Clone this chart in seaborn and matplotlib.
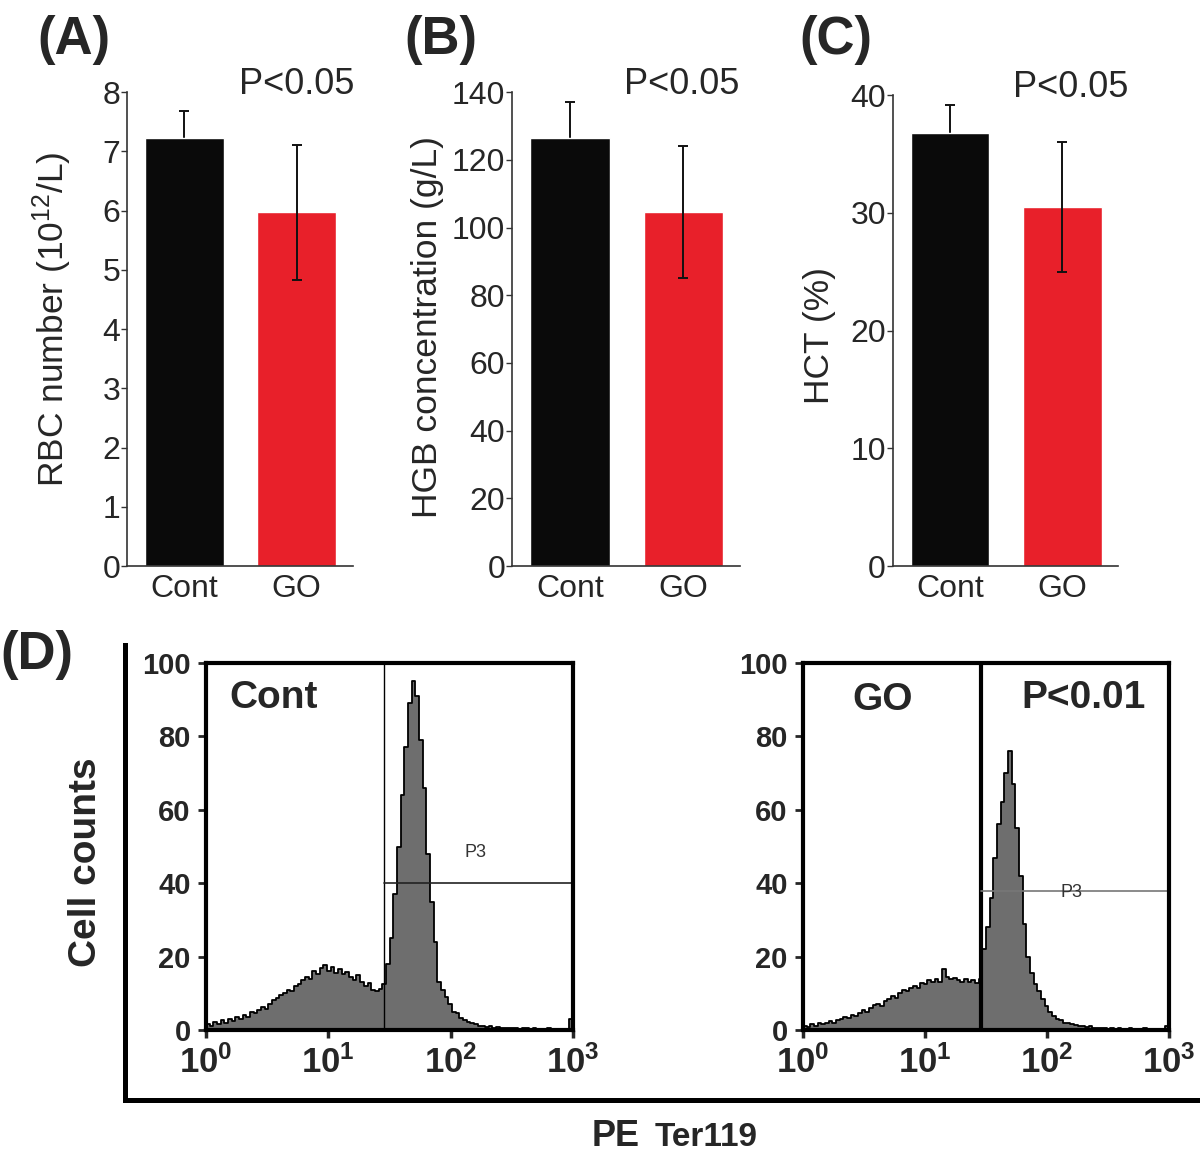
"""
Blood parameters (RBC, HGB, HCT) for Cont vs GO mice, plus Ter119 flow histograms.
"""

import numpy as np
import pandas as pd
import matplotlib
matplotlib.use("Agg")
import matplotlib.pyplot as plt
import seaborn as sns

# ---------- DATA ----------
groups = ["Cont", "GO"]
bar_colors = ["#0a0a0a", "#e8202a"]

rbc_mean = [7.22, 5.97]
rbc_err = [0.47, 1.14]
hgb_mean = [126.5, 104.5]
hgb_err = [10.5, 19.5]
hct_mean = [36.8, 30.5]
hct_err = [2.4, 5.5]

# histogram counts, 100 channels spread evenly over log10(PE) = 0 .. 3
cont_counts = [
    1.5, 1.0, 2.2, 1.5, 2.8, 1.8, 3.0, 2.5, 3.6, 3.0,
    4.2, 3.5, 4.8, 4.5, 5.5, 6.2, 5.8, 7.0, 8.2, 8.8,
    9.5, 10.2, 11.0, 10.5, 12.0, 12.5, 13.5, 14.5, 13.8, 16.0,
    15.2, 16.8, 17.8, 16.0, 17.2, 15.5, 16.5, 15.2, 15.8, 14.5,
    13.5, 15.0, 13.2, 12.0, 12.8, 11.0, 10.5, 11.2, 12.5, 18.0,
    25, 37, 50, 64, 77, 89, 95, 91, 79, 66,
    48, 35, 24, 13, 11, 9, 7, 5, 4.5, 3.2,
    2.8, 2.2, 1.8, 1.5, 1.2, 1.0, 0.8, 1.0, 0.6, 0.7,
    0.5, 0.6, 0.4, 0.5, 0.6, 0.3, 0.4, 0.5, 0.3, 0.4,
    0.3, 0.2, 0.3, 0.4, 0.2, 0.3, 0.2, 0.3, 0.2, 3.0,
]
go_counts = [
    1.0, 0.8, 1.5, 1.2, 1.8, 1.5, 2.0, 2.4, 2.0, 2.8,
    3.0, 3.5, 3.2, 4.0, 3.8, 4.5, 5.5, 5.0, 6.0, 6.8,
    7.0, 6.5, 8.0, 8.5, 9.2, 8.8, 10.0, 11.0, 10.5, 11.5,
    12.0, 11.5, 12.8, 12.5, 13.5, 13.0, 14.0, 13.2, 16.5, 14.5,
    14.0, 14.2, 13.5, 13.0, 13.8, 13.2, 13.5, 12.8, 13.8, 22,
    28, 36, 47, 56, 62, 70, 76, 67, 55, 42,
    29, 20, 15.5, 12.5, 10.5, 8.5, 6.5, 4.8, 3.8, 3.0,
    2.6, 2.0, 1.8, 1.5, 1.3, 1.0, 1.2, 0.8, 1.0, 0.6,
    0.5, 0.4, 0.6, 0.3, 0.5, 0.3, 0.4, 0.2, 0.3, 0.5,
    0.2, 0.3, 0.2, 0.4, 0.2, 0.2, 0.3, 0.2, 0.2, 1.0,
]
gate_x = 28.5          # P3 gate threshold (PE intensity)
gate_y = [40, 38]      # height of the P3 marker line, Cont / GO

# ---------- STYLE ----------
sns.set_theme(style="ticks")
plt.rcParams["font.family"] = ["Liberation Sans", "DejaVu Sans"]
plt.rcParams["mathtext.fontset"] = "custom"
plt.rcParams["mathtext.rm"] = "Liberation Sans"
plt.rcParams["mathtext.bf"] = "Liberation Sans:bold"
plt.rcParams["mathtext.it"] = "Liberation Sans:italic"

fig = plt.figure(figsize=(12, 11.6), dpi=100)

# ---------- BAR PANELS ----------
# rect, means, errors, ymax, tick step, ylabel, label pos, panel tag, tag x, P-text x
bar_panels = [
    ([0.106, 0.512, 0.188, 0.4085], rbc_mean, rbc_err, 8, 1,
     "RBC number (10$^{12}$/L)", (-0.235, 0.52), "(A)", 0.031, 0.752),
    ([0.4267, 0.512, 0.19, 0.4085], hgb_mean, hgb_err, 140, 20,
     "HGB concentration (g/L)", (-0.30, 0.505), "(B)", 0.337, 0.746),
    ([0.744, 0.512, 0.188, 0.406], hct_mean, hct_err, 40, 10,
     "HCT (%)", (-0.25, 0.49), "(C)", 0.666, 0.79),
]

for rect, means, errs, ymax, step, ylabel, lab_xy, tag, tag_x, p_x in bar_panels:
    ax = fig.add_axes(rect)
    df = pd.DataFrame({"group": groups, "value": means})
    sns.barplot(data=df, x="group", y="value", hue="group", palette=bar_colors,
                width=0.7, errorbar=None, legend=False, saturation=1, ax=ax)
    # Cont whisker sits behind its black bar, GO whisker is drawn on top
    for k in range(len(groups)):
        ax.errorbar(x=k, y=means[k], yerr=errs[k], fmt="none", ecolor="#111111",
                    elinewidth=1.4, capsize=3.5, capthick=1.4,
                    zorder=0.5 if k == 0 else 3)
    ax.set_xlim(-0.51, 1.5)
    ax.set_ylim(0, ymax)
    ax.set_yticks(np.arange(0, ymax + step / 2, step))
    ax.set_xlabel("")
    ax.set_ylabel(ylabel, fontsize=25.5)
    ax.yaxis.set_label_coords(*lab_xy)
    ax.tick_params(axis="y", labelsize=23, length=4, width=1, pad=1, color="#333333")
    ax.tick_params(axis="x", labelsize=23, length=0, pad=6)
    sns.despine(ax=ax)
    for s in ["left", "bottom"]:
        ax.spines[s].set_linewidth(1.2)
        ax.spines[s].set_color("#333333")
    ax.text(p_x, 1.016, "P<0.05", transform=ax.transAxes, ha="center", va="center",
            fontsize=26)
    fig.text(tag_x, 1 - 40 / 1160, tag, fontsize=38, fontweight="bold", ha="left", va="center")

# ---------- FLOW PANELS ----------
# outer frame with the shared axis titles
frame = fig.add_axes([0.104, 0.0517, 0.896, 0.392], zorder=-5)
frame.patch.set_visible(False)
frame.set_xticks([])
frame.set_yticks([])
sns.despine(ax=frame)
for s in ["left", "bottom"]:
    frame.spines[s].set_linewidth(3.6)
    frame.spines[s].set_color("black")
frame.set_ylabel("Cell counts", fontsize=28, fontweight="bold")
frame.yaxis.set_label_coords(-0.019, 0.523)

fig.text(592 / 1200, 1 - 1136 / 1160, "PE", fontsize=26, fontweight="bold", ha="left", va="center")
fig.text(655 / 1200, 1 - 1138 / 1160, "Ter119", fontsize=24, fontweight="bold", ha="left", va="center")
fig.text(0.0, 1 - 655 / 1160, "(D)", fontsize=38, fontweight="bold", ha="left", va="center")

log_edges = np.linspace(0, 3, len(cont_counts) + 1)
centers = 10 ** ((log_edges[:-1] + log_edges[1:]) / 2)

flow_panels = [
    ([0.1717, 0.1121, 0.3058, 0.3163], cont_counts, gate_y[0], 1.0, "#222222"),
    ([0.6692, 0.1121, 0.305, 0.3163], go_counts, gate_y[1], 3.0, "#777777"),
]

for i, (rect, counts, gy, vlw, hcol) in enumerate(flow_panels):
    ax = fig.add_axes(rect)
    hdf = pd.DataFrame({"pe": centers, "n": counts})
    sns.histplot(data=hdf, x="pe", weights="n", bins=log_edges.tolist(), log_scale=True,
                 element="step", fill=True, color="#6e6e6e", edgecolor="black",
                 linewidth=1.3, alpha=1, ax=ax)
    ax.set_xlim(1, 1000)
    ax.set_ylim(0, 100)
    ax.set_xticks([1, 10, 100, 1000])
    ax.set_xticklabels([r"$\mathbf{10^{0}}$", r"$\mathbf{10^{1}}$",
                        r"$\mathbf{10^{2}}$", r"$\mathbf{10^{3}}$"])
    ax.xaxis.set_minor_locator(matplotlib.ticker.NullLocator())
    ax.set_yticks([0, 20, 40, 60, 80, 100])
    ax.set_xlabel("")
    ax.set_ylabel("")
    ax.tick_params(axis="x", labelsize=25, length=6, width=2.5, pad=5)
    ax.tick_params(axis="y", labelsize=21, length=6, width=2, pad=5)
    for lab in ax.get_yticklabels():
        lab.set_fontweight("bold")
    for s in ax.spines.values():
        s.set_linewidth(3)
        s.set_color("black")

    # P3 gate marker
    ax.axvline(gate_x, color="black", lw=vlw)
    ax.plot([gate_x, 1000], [gy, gy], color=hcol, lw=1.2)
    ax.text(10 ** 2.2, gy + (8.5 if i == 0 else -0.5), "P3", fontsize=13,
            color="#333333", ha="center", va="center")

    if i == 0:
        ax.text(1.55, 90.5, "Cont", fontsize=28, fontweight="bold", ha="left", va="center")
    else:
        ax.text(4.5, 90, "GO", fontsize=28, fontweight="bold", ha="center", va="center")
        ax.text(200, 90.5, "P<0.01", fontsize=28, fontweight="bold", ha="center", va="center")

fig.savefig("out.png", dpi=100)
plt.close(fig)
